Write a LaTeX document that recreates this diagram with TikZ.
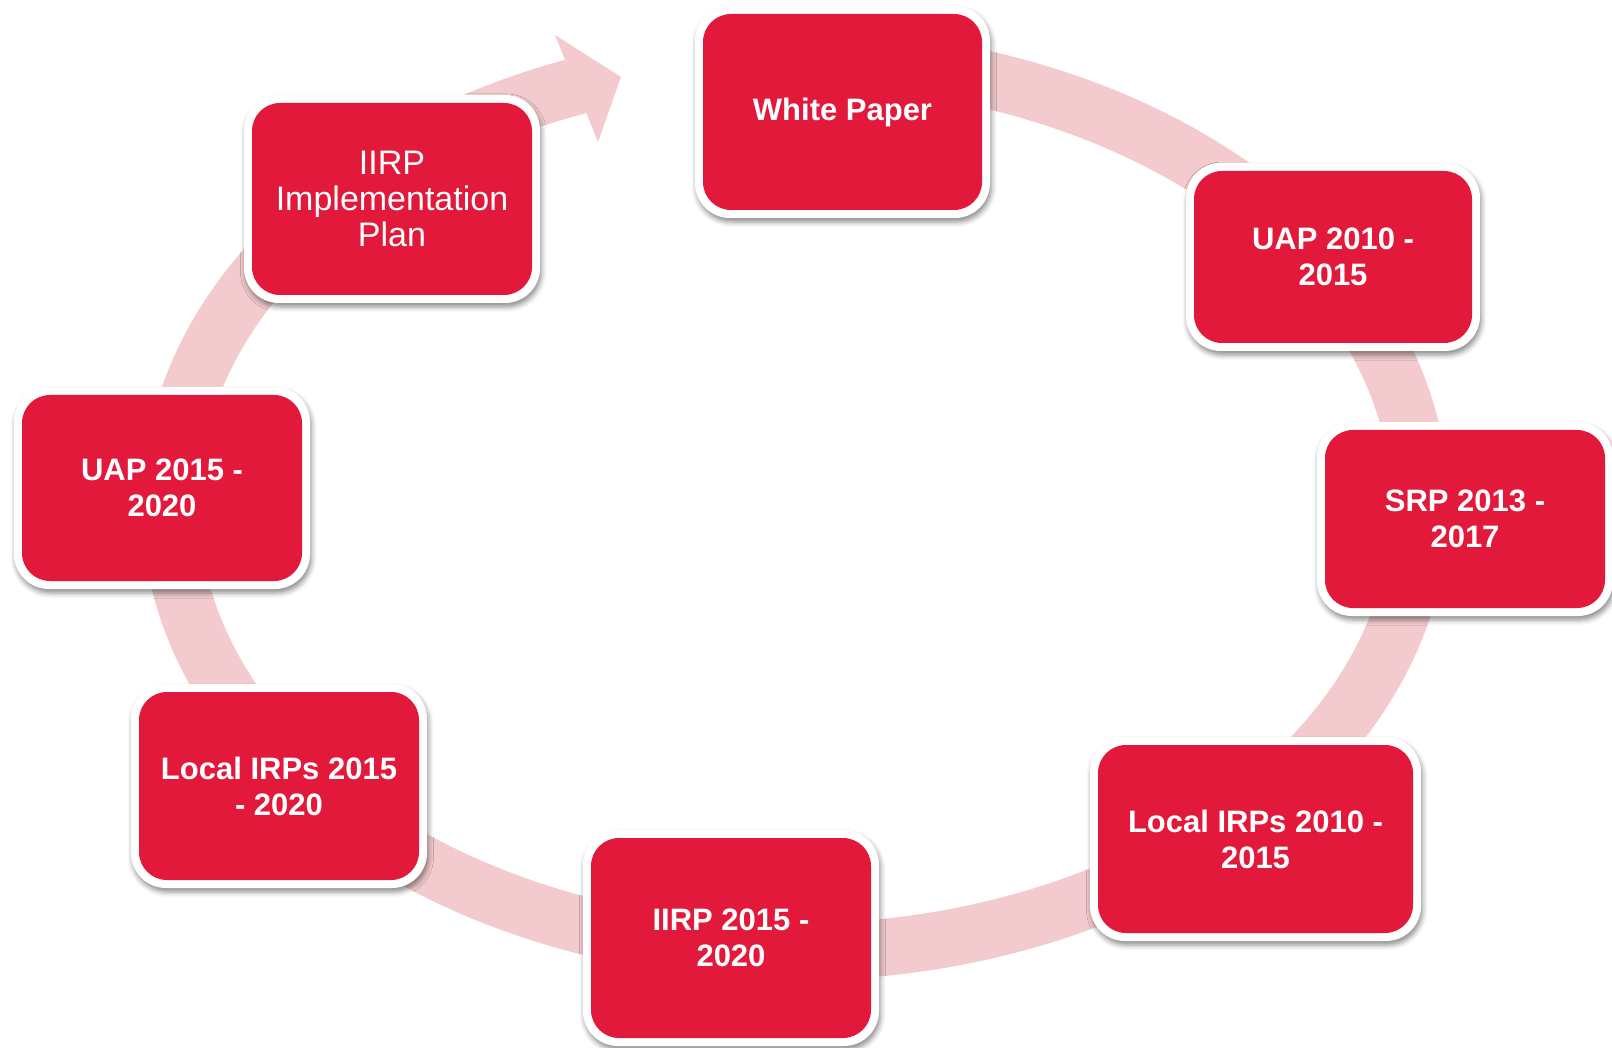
\documentclass[tikz,border=0pt]{standalone}
\usepackage{fontspec}
\setmainfont{Liberation Sans}
\usetikzlibrary{shadows.blur}
\definecolor{boxred}{HTML}{E2193A}
\definecolor{bandpink}{HTML}{F3CBCE}
\tikzset{
  frame/.style={fill=white, draw=none, rounded corners=35pt, inner sep=0pt,
    blur shadow={shadow xshift=1.5pt, shadow yshift=-4pt, shadow blur radius=5pt, shadow opacity=45}},
  stagebox/.style={fill=boxred, draw=none, rounded corners=28pt,
    inner sep=0pt, align=center, text=white,
    font=\bfseries\fontsize{31}{36}\selectfont},
  band/.style={draw=bandpink, line width=57pt},
  bandhead/.style={fill=bandpink, draw=none}
}
\newcommand{\stage}[6]{%
  \node[frame, minimum width=#3pt+16pt, minimum height=#4pt+16pt] (#1f) at (#2) {};
  \node[stagebox, minimum width=#3pt, minimum height=#4pt, #5] (#1) at (#2) {#6};
}
\begin{document}
\begin{tikzpicture}[x=1pt,y=-1pt]
\useasboundingbox (0,0) rectangle (1612,1048);
% ring
\draw[band] plot[domain=-250.5:80, samples=240, smooth] ({795+625*cos(\x)},{505-447*sin(\x)});
\coordinate (h1) at (555,35);
\coordinate (h2) at (621,77);
\coordinate (h3) at (598,142);
\fill[bandhead] (h1) -- (h2) -- (h3) -- cycle;
% boxes
\stage{wp}{842.5,112}{279}{196}{}{White Paper}
\stage{uap10}{1333,257}{278}{172}{}{UAP 2010 -\\2015}
\stage{srp}{1465,519}{280}{178}{}{SRP 2013 -\\2017}
\stage{lirp10}{1255.5,839}{315}{188}{}{Local IRPs 2010 -\\2015}
\stage{iirp15}{731,938}{280}{200}{}{IIRP 2015 -\\2020}
\stage{lirp15}{279,786}{280}{188}{}{Local IRPs 2015\\- 2020}
\stage{uap15}{162,488}{280}{186}{}{UAP 2015 -\\2020}
\stage{impl}{392,199}{280}{192}{font=\fontsize{34}{36}\selectfont}{IIRP\\Implementation\\Plan}
\end{tikzpicture}
\end{document}
